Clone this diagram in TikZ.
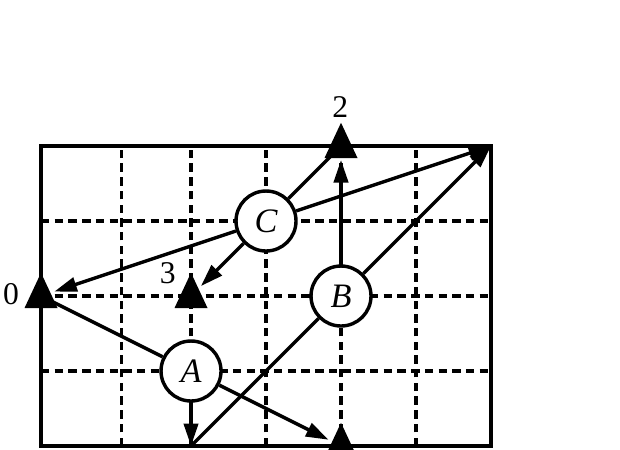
\documentclass[tikz,border=0pt]{standalone}
\usepackage{fontspec}
\setmainfont{Liberation Serif}
\usetikzlibrary{arrows.meta}
\begin{document}
\begin{tikzpicture}[x=1cm,y=1cm,
  frame/.style={line width=1.4pt},
  gridline/.style={line width=1.2pt, dash pattern=on 3.2pt off 2pt},
  conn/.style={line width=1.3pt},
  arr/.style={conn, -{Triangle[length=0.3cm,width=0.19cm]}},
  agent/.style={circle, draw, fill=white, line width=1.3pt, minimum size=0.8cm, inner sep=0pt, font=\fontsize{13}{15}\selectfont\itshape},
  target/.style={circle, minimum size=0.36cm, inner sep=0pt},
  num/.style={font=\fontsize{12}{14}\selectfont, inner sep=0pt}]
\useasboundingbox (-0.547,-0.053) rectangle (7.72,5.947);
\clip (-0.547,-0.053) rectangle (7.72,5.947);
% grid
\foreach \x in {1.07,2,3,4,5} \draw[gridline] (\x,0) -- (\x,4);
\foreach \y in {1,2,3} \draw[gridline] (0,\y) -- (6,\y);
\draw[frame] (0,0) rectangle (6,4);
% targets
\node[target] (t0) at (0,2) {};
\node[target] (t2) at (4,4) {};
\node[target] (t3) at (2,2) {};
\node[target] (t4) at (4,0) {};
\coordinate (corner) at (6,4);
\coordinate (foot) at (2,0);
% agents
\node[agent] (A) at (2,1) {A};
\node[agent] (B) at (4,2) {B};
\node[agent] (C) at (3,3) {C};
% connectors
\draw[arr] (C) -- (t0);
\draw[arr] (C) -- (t3);
\draw[conn] (C) -- (t2.center);
\draw[arr] (C) -- (corner);
\draw[arr] (B) -- (t2);
\draw[arr] (B) -- (corner);
\draw[conn] (foot) -- (B);
\draw[arr] (A) -- (foot);
\draw[conn] (A) -- (t0.center);
\draw[arr] (A) -- (t4);
% triangle markers
\foreach \t in {t0,t2,t3,t4}
  \fill ([shift={(0,0.31)}]\t.center) -- ([shift={(-0.22,-0.16)}]\t.center) -- ([shift={(0.22,-0.16)}]\t.center) -- cycle;
% labels
\node[num] (l0) at (-0.4,2.03) {0};
\node[num] (l3) at (1.69,2.31) {3};
\node[num] (l2) at (3.99,4.52) {2};
\end{tikzpicture}
\end{document}
